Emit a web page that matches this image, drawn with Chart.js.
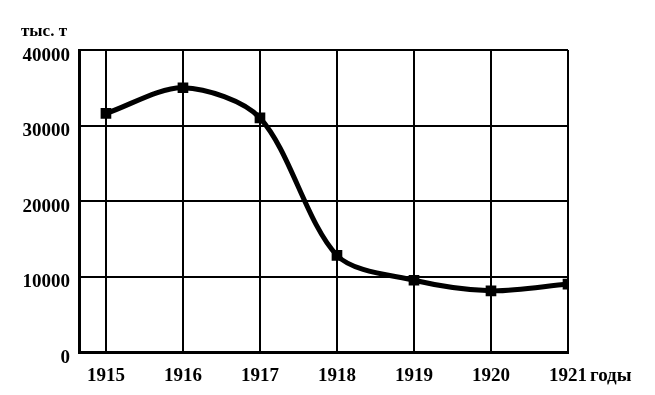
<!DOCTYPE html>
<html>
<head>
<meta charset="utf-8">
<script src="https://cdn.jsdelivr.net/npm/chart.js@4"></script>
<style>
  html,body{margin:0;padding:0;background:#fff;}
  #wrap{width:655px;height:395px;position:relative;}
</style>
</head>
<body>
<div id="wrap"><canvas id="chart" width="655" height="395"></canvas></div>
<script>
const years  = [1915, 1916, 1917, 1918, 1919, 1920, 1921];
const values = [31600, 35000, 31000, 12800, 9500, 8100, 9000];
const yTicks = [0, 10000, 20000, 30000, 40000];
const yUnit  = 'тыс. т';
const xUnit  = 'годы';

const FONT = '"Liberation Serif", "DejaVu Serif", serif';

// extra captions: unit over the y axis, "годы" after the last year
const captions = {
  id: 'captions',
  afterDraw(chart){
    const {ctx, scales:{x, y}} = chart;
    ctx.save();
    ctx.fillStyle = '#000';
    ctx.textBaseline = 'middle';
    ctx.textAlign = 'left';
    ctx.font = 'bold 17px ' + FONT;
    ctx.fillText(yUnit, 21, y.top - 18);
    ctx.font = 'bold 19px ' + FONT;
    ctx.fillText(xUnit, x.getPixelForValue(years[years.length-1]) + 22, y.bottom + 24);
    ctx.restore();
  }
};

new Chart(document.getElementById('chart'), {
  type: 'line',
  data: {
    datasets: [{
      data: years.map((yr, i) => ({x: yr, y: values[i]})),
      borderColor: '#000',
      borderWidth: 5,
      tension: 0.3,
      pointStyle: 'rect',
      pointRadius: 4,
      pointBackgroundColor: '#000',
      pointBorderColor: '#000',
      fill: false
    }]
  },
  options: {
    responsive: false,
    animation: false,
    layout: {padding: {left: 0, right: 87, top: 50, bottom: 0}},
    plugins: {legend: {display: false}, tooltip: {enabled: false}},
    scales: {
      x: {
        type: 'linear',
        min: 1914.65,
        max: 1921,
        afterBuildTicks: s => { s.ticks = years.map(v => ({value: v})); },
        afterFit: s => { s.height = 43; },
        grid: {color: '#000', lineWidth: 2, drawTicks: false},
        border: {color: '#000', width: 3},
        ticks: {
          color: '#000',
          padding: 13,
          font: {family: FONT, size: 19, weight: 'bold'},
          callback: v => String(v)
        }
      },
      y: {
        min: 0,
        max: 40000,
        afterBuildTicks: s => { s.ticks = yTicks.map(v => ({value: v})); },
        afterFit: s => { s.width = 79; },
        grid: {color: '#000', lineWidth: 2, drawTicks: false},
        border: {color: '#000', width: 3},
        ticks: {
          color: '#000',
          padding: 9,
          labelOffset: 6,
          font: {family: FONT, size: 19, weight: 'bold'},
          callback: v => String(v)
        }
      }
    }
  },
  plugins: [captions]
});
</script>
</body>
</html>
